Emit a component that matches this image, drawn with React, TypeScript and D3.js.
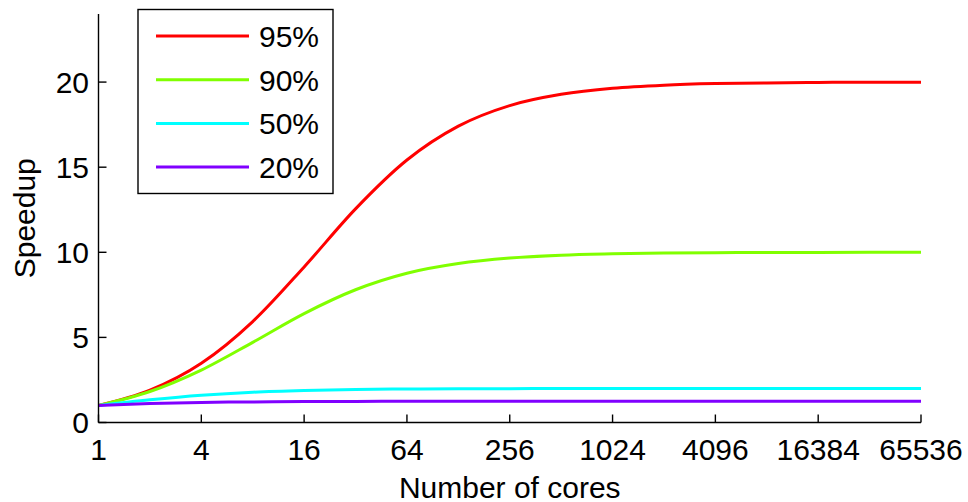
import * as d3 from 'd3';

// cores: powers of two from 1 to 65536
const cores = [1, 2, 4, 8, 16, 32, 64, 128, 256, 512, 1024, 2048, 4096, 8192, 16384, 32768, 65536];
const xTicks = [1, 4, 16, 64, 256, 1024, 4096, 16384, 65536];
const yTicks = [0, 5, 10, 15, 20];

// speedup for each parallel fraction
const s95 = [1, 1.9, 3.48, 5.93, 9.14, 12.55, 15.42, 17.41, 18.62, 19.28, 19.64, 19.82, 19.91, 19.95, 19.98, 19.99, 19.99];
const s90 = [1, 1.82, 3.08, 4.71, 6.4, 7.8, 8.77, 9.34, 9.66, 9.83, 9.91, 9.96, 9.98, 9.99, 9.99, 10, 10];
const s50 = [1, 1.33, 1.6, 1.78, 1.88, 1.94, 1.97, 1.98, 1.99, 2, 2, 2, 2, 2, 2, 2, 2];
const s20 = [1, 1.11, 1.18, 1.21, 1.23, 1.24, 1.245, 1.25, 1.25, 1.25, 1.25, 1.25, 1.25, 1.25, 1.25, 1.25, 1.25];

const seriesNames = ['95%', '90%', '50%', '20%'];
const seriesColors = ['#ff0000', '#80ff00', '#00ffff', '#8000ff'];
const seriesValues = [s95, s90, s50, s20];

const W = 968;
const H = 502;
const FONT = '"Liberation Sans", Arial, sans-serif';
const FS = 30;

export default function App() {
  const x = d3.scaleLog().base(2).domain([1, 65536]).range([98.5, 921]);
  const y = d3.scaleLinear().domain([0, 24]).range([422.5, 14]);

  const line = d3.line<number>()
    .x((_, i) => x(cores[i]))
    .y((d) => y(d))
    .curve(d3.curveMonotoneX);

  return (
    <svg width={W} height={H} style={{ position: 'absolute', left: 0, top: 0 }} fontFamily={FONT}>
      <rect width={W} height={H} fill="white" />

      {/* lines */}
      {seriesValues.map((vals, i) => (
        <path key={i} d={line(vals) || ''} fill="none" stroke={seriesColors[i]} strokeWidth={3} />
      ))}

      {/* y axis */}
      <line x1={x(1)} x2={x(1)} y1={y(24)} y2={y(0)} stroke="black" strokeWidth={1.4} />
      {yTicks.map((t) => (
        <g key={t}>
          <line x1={x(1)} x2={x(1) + 8} y1={y(t)} y2={y(t)} stroke="black" strokeWidth={1.4} />
          <text x={89} y={y(t) + 10.5} textAnchor="end" fontSize={FS}>{t}</text>
        </g>
      ))}

      {/* x axis */}
      <line x1={x(1)} x2={x(65536)} y1={y(0)} y2={y(0)} stroke="black" strokeWidth={1.4} />
      {xTicks.map((t) => (
        <g key={t}>
          <line x1={x(t)} x2={x(t)} y1={y(0)} y2={y(0) - 8} stroke="black" strokeWidth={1.4} />
          <text x={x(t)} y={460} textAnchor="middle" fontSize={FS}>{t}</text>
        </g>
      ))}

      <text x={(x(1) + x(65536)) / 2} y={497.5} textAnchor="middle" fontSize={FS}>Number of cores</text>
      <text transform={`translate(35, ${(y(0) + y(24)) / 2}) rotate(-90)`} textAnchor="middle" fontSize={FS}>Speedup</text>

      {/* legend */}
      <rect x={138} y={9.5} width={195} height={184} fill="white" stroke="black" strokeWidth={1.4} />
      {seriesNames.map((n, i) => {
        const ly = 36 + i * 43.7;
        return (
          <g key={n}>
            <line x1={156} x2={249} y1={ly} y2={ly} stroke={seriesColors[i]} strokeWidth={3} />
            <text x={259} y={ly + 11} fontSize={FS}>{n}</text>
          </g>
        );
      })}
    </svg>
  );
}
